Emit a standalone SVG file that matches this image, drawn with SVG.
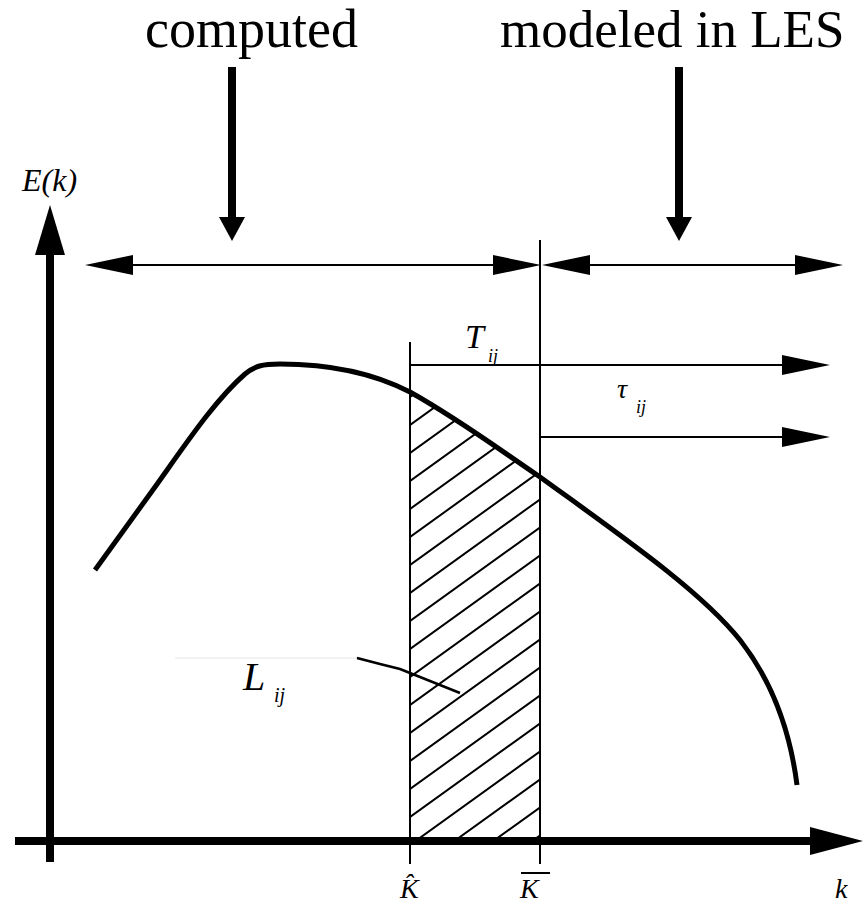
<svg xmlns="http://www.w3.org/2000/svg" width="864" height="906" viewBox="0 0 864 906">
<style>
.thin{stroke:#000;stroke-width:2;fill:none}
text{fill:#000;font-family:'Liberation Serif','Times New Roman',serif}
.it{font-style:italic}
</style>
<defs>
<marker id="ah" viewBox="0 0 48 20" markerWidth="48" markerHeight="20" refX="0" refY="10" orient="auto-start-reverse" markerUnits="userSpaceOnUse"><path d="M0,0 L48,10 L0,20 Z" fill="#000"/></marker>
<marker id="ahBig" viewBox="0 0 24 26" markerWidth="24" markerHeight="26" refX="0" refY="13" orient="auto" markerUnits="userSpaceOnUse"><path d="M0,0 L24,13 L0,26 Z" fill="#000"/></marker>
<marker id="ahAxY" viewBox="0 0 50 30" markerWidth="50" markerHeight="30" refX="0" refY="15" orient="auto" markerUnits="userSpaceOnUse"><path d="M0,0 L50,15 L0,30 Z" fill="#000"/></marker>
<marker id="ahAxX" viewBox="0 0 53 28" markerWidth="53" markerHeight="28" refX="0" refY="14" orient="auto" markerUnits="userSpaceOnUse"><path d="M0,0 L53,14 L0,28 Z" fill="#000"/></marker>
<clipPath id="hatchClip"><path d="M410,392 C460,420 500,450 540,477 L540,841 L410,841 Z"/></clipPath>
</defs>
<rect width="864" height="906" fill="#fff"/>

<g id="axes">
<line x1="50" y1="862" x2="50" y2="255" stroke="#000" stroke-width="8" marker-end="url(#ahAxY)"/>
<line x1="15" y1="841" x2="810" y2="841" stroke="#000" stroke-width="8" marker-end="url(#ahAxX)"/>
</g>

<g id="hatch" clip-path="url(#hatchClip)">
<path class="thin" stroke-width="1.8" d="M405,932.6 L545,831.8 M405,904.6 L545,803.8 M405,876.6 L545,775.8 M405,848.6 L545,747.8 M405,820.6 L545,719.8 M405,792.6 L545,691.8 M405,764.6 L545,663.8 M405,736.6 L545,635.8 M405,708.6 L545,607.8 M405,680.6 L545,579.8 M405,652.6 L545,551.8 M405,624.6 L545,523.8 M405,596.6 L545,495.8 M405,568.6 L545,467.8 M405,540.6 L545,439.8 M405,512.6 L545,411.8 M405,484.6 L545,383.8 M405,456.6 L545,355.8 M405,428.6 L545,327.8 M405,400.6 L545,299.8 M405,372.6 L545,271.8"/>
</g>

<g id="spectrum">
<path d="M95,570 L155,487 C185,445 215,400 245,374 C255,366 262,364 280,364 C330,364 375,374 410,392 C460,420 500,450 540,477 C620,535 700,590 740,640 C775,685 791,738 797,785" fill="none" stroke="#000" stroke-width="5" stroke-linejoin="round"/>
</g>

<g id="connectors">
<line class="thin" x1="410" y1="342" x2="410" y2="864"/>
<line class="thin" x1="540" y1="240" x2="540" y2="864"/>
<line class="thin" x1="133" y1="265" x2="493" y2="265" marker-start="url(#ah)" marker-end="url(#ah)"/>
<line class="thin" x1="590" y1="265" x2="795" y2="265" marker-start="url(#ah)" marker-end="url(#ah)"/>
<line class="thin" x1="410" y1="365" x2="782" y2="365" marker-end="url(#ah)"/>
<line class="thin" x1="540" y1="437" x2="782" y2="437" marker-end="url(#ah)"/>
<line x1="232" y1="67" x2="232" y2="217" stroke="#000" stroke-width="8" marker-end="url(#ahBig)"/>
<line x1="679" y1="67" x2="679" y2="217" stroke="#000" stroke-width="8" marker-end="url(#ahBig)"/>
<line x1="175" y1="658" x2="357" y2="658" stroke="#e6e6e6" stroke-width="1"/>
<path d="M357,658 L380,664 L400,669 L420,677 L440,685 L460,693" fill="none" stroke="#000" stroke-width="2.5"/>
</g>

<g id="label-computed"><text x="145" y="47" font-size="54">computed</text></g>
<g id="label-modeled"><text x="500" y="47" font-size="53">modeled in LES</text></g>
<g id="label-Ek"><text class="it" x="22" y="191" font-size="32">E(k)</text></g>
<g id="label-T"><text class="it" x="465" y="348" font-size="34">T</text><text class="it" x="488" y="362" font-size="18">ij</text></g>
<g id="label-tau"><text class="it" x="617" y="398" font-size="28">τ</text><text class="it" x="636" y="413" font-size="18">ij</text></g>
<g id="label-L"><text class="it" x="243" y="690" font-size="40">L</text><text class="it" x="274" y="702" font-size="20">ij</text></g>
<g id="label-Khat"><text class="it" x="400" y="898" font-size="28">K̂</text></g>
<g id="label-Kbar"><text class="it" x="520" y="898" font-size="28">K</text><line x1="521" y1="873" x2="550" y2="873" stroke="#000" stroke-width="2"/></g>
<g id="label-k"><text class="it" x="835" y="898" font-size="28">k</text></g>
</svg>
